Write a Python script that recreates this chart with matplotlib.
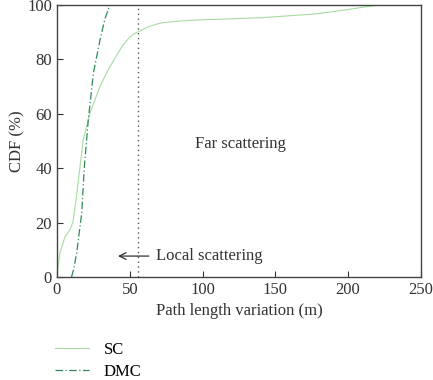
import matplotlib.pyplot as plt

# CDF curves
sc_x = [0, 0.5, 2, 5.5, 9, 11, 13, 15.8, 18, 22.7, 29.5, 35, 39.8, 45, 50, 53, 56, 62, 68, 73, 85, 98, 140, 178, 201, 212, 222]
sc_y = [0, 3, 8.8, 14.8, 17.5, 20.3, 28, 40.5, 50.3, 60.3, 70, 76, 80.4, 85, 88.2, 89.4, 90.2, 91.8, 92.9, 93.5, 94.1, 94.5, 95.3, 96.7, 98.4, 99.3, 100]

dmc_x = [10, 11.5, 13.5, 17, 18.8, 21.5, 25, 29.5, 33, 36.4]
dmc_y = [0, 3, 8.7, 23.5, 40.5, 57.7, 74.9, 87, 95, 100]

threshold = 55.5

plt.rcParams['font.family'] = ['Liberation Serif', 'DejaVu Serif']
plt.rcParams['font.size'] = 12

fig = plt.figure(figsize=(4.33, 3.8), dpi=100)
ax = fig.add_axes([0.1316, 0.271, 0.8404, 0.716])

l1, = ax.plot(sc_x, sc_y, color='#a6dca0', lw=0.8, label='SC')
l2, = ax.plot(dmc_x, dmc_y, color='#2e8b57', lw=0.9, linestyle=(0, (6, 2, 1, 2)), label='DMC')
ax.axvline(threshold, color='#555555', lw=1, linestyle=(0, (1, 2.5)))

ax.annotate('', xy=(40, 7.7), xytext=(65, 7.7),
            arrowprops=dict(arrowstyle='->', color='#333333', lw=0.9))
ax.text(68, 7.7, 'Local scattering', va='center', ha='left', color='#333333')
ax.text(95, 49, 'Far scattering', va='center', ha='left', color='#333333')

ax.set_xlim(0, 250)
ax.set_ylim(0, 100)
ax.set_xticks([0, 50, 100, 150, 200, 250])
ax.set_yticks([0, 20, 40, 60, 80, 100])
ax.set_xlabel('Path length variation (m)', color='#333333')
ax.set_ylabel('CDF (%)', color='#333333', labelpad=1)
ax.tick_params(direction='in', length=4, colors='#333333', top=False, right=False)
for s in ax.spines.values():
    s.set_color('#444444')
    s.set_linewidth(1.0)

fig.legend(handles=[l1, l2], loc='upper left', bbox_to_anchor=(0.128, 0.1),
           frameon=False, handlelength=2.0, labelspacing=0.35, handletextpad=0.9,
           borderaxespad=0, borderpad=0)

fig.savefig('out.png', dpi=100)
